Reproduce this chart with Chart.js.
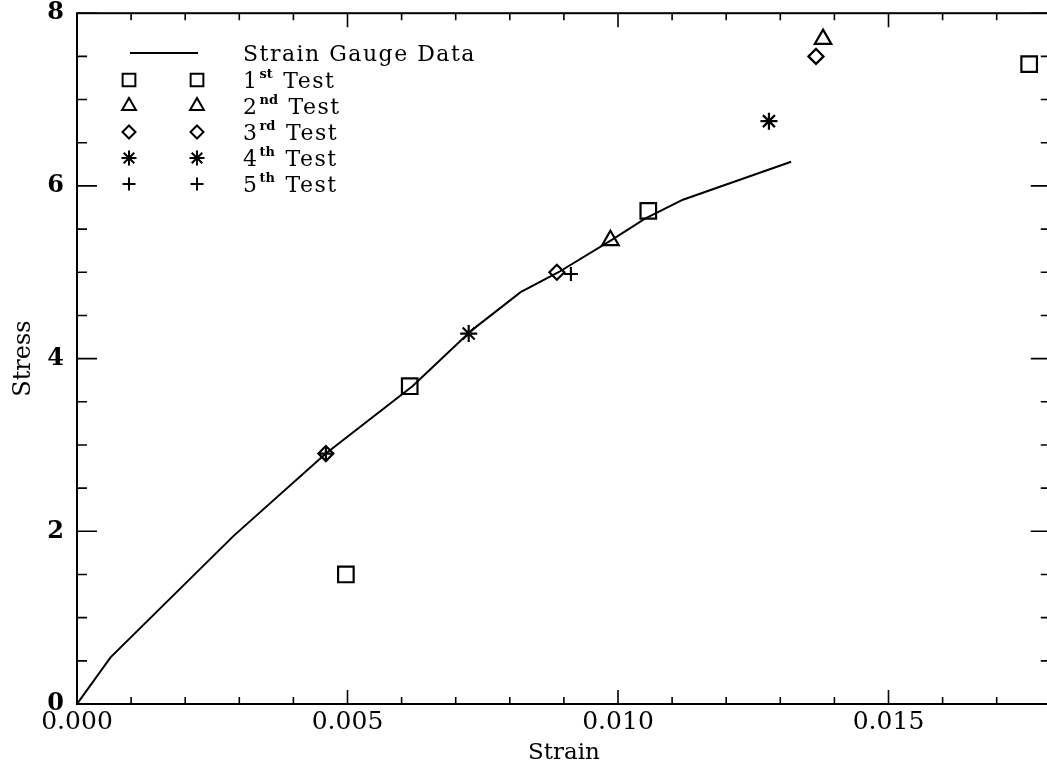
<!DOCTYPE html>
<html>
<head>
<meta charset="utf-8">
<script src="https://cdn.jsdelivr.net/npm/chart.js@4.4.1/dist/chart.umd.min.js"></script>
<style>
  html, body { margin: 0; padding: 0; background: #fff; overflow: hidden; }
  #wrap { width: 1064px; height: 767px; }
</style>
</head>
<body>
<div id="wrap"><canvas id="stressChart" width="1064" height="767"></canvas></div>
<script>
// strain gauge curve
const gaugeStrain = [0, 0.00062, 0.0029, 0.0046, 0.0062, 0.0073, 0.0082, 0.0089, 0.0099, 0.0105, 0.0112, 0.0132];
const gaugeStress = [0, 0.54, 1.95, 2.90, 3.68, 4.33, 4.77, 5.00, 5.38, 5.62, 5.84, 6.28];

// individual tests
const test1Strain = [0.00497, 0.00615, 0.01056, 0.0176];
const test1Stress = [1.50, 3.68, 5.71, 7.41];
const test2Strain = [0.00986, 0.01379];
const test2Stress = [5.37, 7.70];
const test3Strain = [0.0046, 0.00887, 0.01366];
const test3Stress = [2.90, 5.00, 7.50];
const test4Strain = [0.00724, 0.01279];
const test4Stress = [4.29, 6.75];
const test5Strain = [0.0046, 0.00913];
const test5Stress = [2.90, 4.98];

const xTickValues = [0, 0.005, 0.010, 0.015];
const xTickLabels = ["0.000", "0.005", "0.010", "0.015"];
const yTickValues = [0, 2, 4, 6, 8];
const yTickLabels = ["0", "2", "4", "6", "8"];

// legend text: [number, superscript, rest]
const legendText = [
    ["Strain Gauge Data", "", ""],
    ["1", "st", " Test"],
    ["2", "nd", " Test"],
    ["3", "rd", " Test"],
    ["4", "th", " Test"],
    ["5", "th", " Test"],
];

const toPoints = (xs, ys) => xs.map((x, i) => ({ x: x, y: ys[i] }));

function testSet(label, xs, ys, style, r) {
    return {
        label: label,
        data: toPoints(xs, ys),
        showLine: false,
        pointStyle: style,
        pointRadius: r,
        pointBorderWidth: 2.2,
        pointBorderColor: "#000",
        pointBackgroundColor: "rgba(0,0,0,0)",
    };
}

const stressData = {
    datasets: [
        {
            label: "Strain Gauge Data",
            data: toPoints(gaugeStrain, gaugeStress),
            showLine: true,
            borderColor: "#000",
            borderWidth: 2,
            pointRadius: 0,
            tension: 0,
        },
        testSet("1st Test", test1Strain, test1Stress, "rect", 11),
        testSet("2nd Test", test2Strain, test2Stress, "triangle", 9.5),
        testSet("3rd Test", test3Strain, test3Stress, "rectRot", 7.5),
        testSet("4th Test", test4Strain, test4Stress, "star", 8.5),
        testSet("5th Test", test5Strain, test5Stress, "cross", 7),
    ],
};

// box with inward ticks on all four sides
const framePlugin = {
    id: "frame",
    afterDatasetsDraw(chart) {
        const { ctx, chartArea: a, scales: { x, y } } = chart;
        ctx.save();
        ctx.strokeStyle = "#000";
        ctx.lineWidth = 2;
        ctx.strokeRect(a.left, a.top, a.right - a.left, a.bottom - a.top);
        ctx.lineWidth = 1.6;
        ctx.beginPath();
        for (let i = 0; i <= 18; i++) {
            const px = x.getPixelForValue(i * 0.001);
            const len = i % 5 === 0 ? 14 : 7;
            ctx.moveTo(px, a.bottom); ctx.lineTo(px, a.bottom - len);
            ctx.moveTo(px, a.top); ctx.lineTo(px, a.top + len);
        }
        for (let i = 0; i <= 16; i++) {
            const py = y.getPixelForValue(i * 0.5);
            const len = i % 4 === 0 ? 20 : 10;
            ctx.moveTo(a.left, py); ctx.lineTo(a.left + len, py);
            ctx.moveTo(a.right, py); ctx.lineTo(a.right - len, py);
        }
        ctx.stroke();
        ctx.restore();
    },
};

const legendRadius = [0, 9, 8, 6.5, 7.5, 6.5];

const legendPlugin = {
    id: "stressLegend",
    afterDraw(chart) {
        const ctx = chart.ctx;
        const symX = [129, 197];
        const textX = 243;
        ctx.save();
        chart.data.datasets.forEach((ds, i) => {
            const rowY = i === 0 ? 53 : 54 + i * 26;
            ctx.strokeStyle = "#000";
            ctx.lineWidth = 2;
            if (i === 0) {
                ctx.beginPath();
                ctx.moveTo(130, rowY);
                ctx.lineTo(198, rowY);
                ctx.stroke();
            } else {
                symX.forEach(sx => {
                    ctx.fillStyle = "rgba(0,0,0,0)";
                    Chart.helpers.drawPoint(ctx, {
                        pointStyle: ds.pointStyle,
                        radius: legendRadius[i],
                        borderWidth: 2,
                        rotation: 0,
                    }, sx, rowY);
                });
            }
            const [num, sup, rest] = legendText[i];
            ctx.fillStyle = "#000";
            ctx.textBaseline = "alphabetic";
            ctx.textAlign = "left";
            ctx.letterSpacing = "1.5px";
            ctx.font = '22px "DejaVu Serif"';
            let tx = textX;
            ctx.fillText(num, tx, rowY + 8);
            tx += ctx.measureText(num).width;
            if (sup) {
                ctx.font = 'bold 13px "DejaVu Serif"';
                ctx.letterSpacing = "0px";
                ctx.fillText(sup, tx + 1, rowY - 2);
                tx += ctx.measureText(sup).width + 3;
                ctx.letterSpacing = "1.5px";
                ctx.font = '22px "DejaVu Serif"';
                ctx.fillText(rest, tx, rowY + 8);
            }
        });
        ctx.restore();
    },
};

const stressConfig = {
    type: "scatter",
    data: stressData,
    options: {
        responsive: false,
        animation: false,
        events: [],
        layout: { padding: { top: 6, right: 8, left: 0, bottom: 0 } },
        plugins: {
            legend: { display: false },
            tooltip: { enabled: false },
        },
        scales: {
            x: {
                type: "linear",
                min: 0,
                max: 0.018,
                afterFit: s => { s.height = 63; s.paddingLeft = 0; s.paddingRight = 0; },
                afterBuildTicks: s => { s.ticks = xTickValues.map(v => ({ value: v })); },
                grid: { display: false, drawTicks: false },
                border: { display: false },
                ticks: {
                    padding: 3,
                    color: "#000",
                    maxRotation: 0,
                    autoSkip: false,
                    font: { family: "DejaVu Serif", size: 25 },
                    callback: (v, i) => xTickLabels[i],
                },
                title: {
                    display: true,
                    text: "Strain",
                    color: "#000",
                    padding: { top: 0, bottom: 0 },
                    font: { family: "DejaVu Serif", size: 23 },
                },
            },
            y: {
                type: "linear",
                min: 0,
                max: 8,
                afterFit: s => { s.width = 77; s.paddingTop = 0; s.paddingBottom = 0; },
                afterBuildTicks: s => { s.ticks = yTickValues.map(v => ({ value: v })); },
                grid: { display: false, drawTicks: false },
                border: { display: false },
                ticks: {
                    padding: 13,
                    color: "#000",
                    autoSkip: false,
                    font: { family: "DejaVu Serif", size: 24, weight: "bold" },
                    callback: (v, i) => yTickLabels[i],
                },
                title: {
                    display: true,
                    text: "Stress",
                    color: "#000",
                    padding: { top: 9, bottom: 0 },
                    font: { family: "DejaVu Serif", size: 24 },
                },
            },
        },
    },
    plugins: [framePlugin, legendPlugin],
};

const stressChart = new Chart(document.getElementById("stressChart"), stressConfig);
</script>
</body>
</html>
